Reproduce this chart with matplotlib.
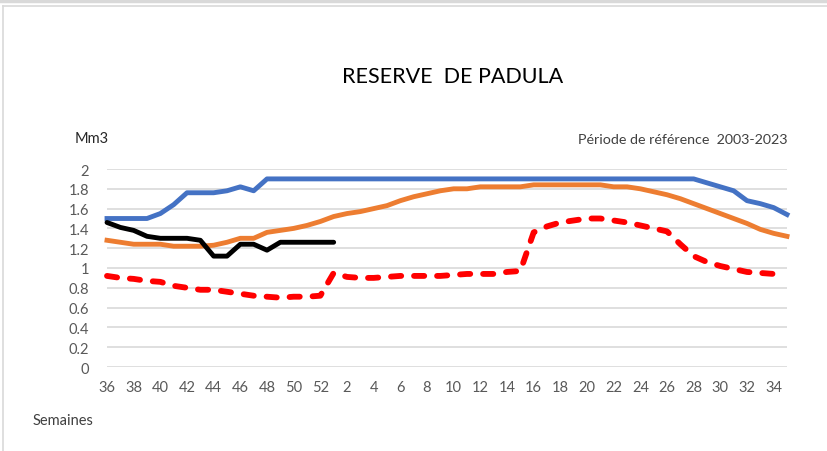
import numpy as np
import matplotlib
matplotlib.use("Agg")
import matplotlib.pyplot as plt
from matplotlib.lines import Line2D

plt.rcParams['font.family'] = ['Lato', 'DejaVu Sans']

# semaines 36..52 puis 1..35
weeks = list(range(36, 53)) + list(range(1, 36))

# max sur la periode de reference
max_ref = [1.50, 1.50, 1.50, 1.50, 1.55, 1.64, 1.76, 1.76, 1.76, 1.78, 1.82, 1.78, 1.90,
           1.90, 1.90, 1.90, 1.90, 1.90, 1.90, 1.90, 1.90, 1.90, 1.90, 1.90, 1.90, 1.90,
           1.90, 1.90, 1.90, 1.90, 1.90, 1.90, 1.90, 1.90, 1.90, 1.90, 1.90, 1.90, 1.90,
           1.90, 1.90, 1.90, 1.90, 1.90, 1.90, 1.86, 1.82, 1.78, 1.68, 1.65, 1.61, 1.54]

# moyenne
mean_ref = [1.28, 1.26, 1.24, 1.24, 1.24, 1.22, 1.22, 1.22, 1.23, 1.26, 1.30, 1.30, 1.36,
            1.38, 1.40, 1.43, 1.47, 1.52, 1.55, 1.57, 1.60, 1.63, 1.68, 1.72, 1.75, 1.78,
            1.80, 1.80, 1.82, 1.82, 1.82, 1.82, 1.84, 1.84, 1.84, 1.84, 1.84, 1.84, 1.82,
            1.82, 1.80, 1.77, 1.74, 1.70, 1.65, 1.60, 1.55, 1.50, 1.45, 1.39, 1.35, 1.32]

# min (jusqu'a la semaine 34)
min_ref = [0.92, 0.90, 0.89, 0.87, 0.86, 0.82, 0.80, 0.78, 0.78, 0.76, 0.74, 0.72, 0.71,
           0.70, 0.71, 0.71, 0.72, 0.95, 0.91, 0.90, 0.90, 0.91, 0.92, 0.92, 0.92, 0.92,
           0.93, 0.94, 0.94, 0.94, 0.96, 0.97, 1.36, 1.42, 1.46, 1.48, 1.50, 1.50, 1.48,
           1.46, 1.43, 1.40, 1.37, 1.24, 1.12, 1.06, 1.02, 0.99, 0.96, 0.95, 0.94]

# annee en cours (semaine 36 a semaine 1)
current = [1.46, 1.41, 1.38, 1.32, 1.30, 1.30, 1.30, 1.28, 1.12, 1.12, 1.24, 1.24, 1.18,
           1.26, 1.26, 1.26, 1.26, 1.26]

x = np.arange(len(weeks))

fig = plt.figure(figsize=(8.27, 4.52), dpi=100)
ax = fig.add_axes([107/827, 1-368/452, 680/827, 198/452])

lw = 3.5
ax.plot(x, max_ref, color='#4472C4', lw=lw, solid_joinstyle='round', clip_on=False, zorder=3)
ax.plot(x, mean_ref, color='#ED7D31', lw=lw, solid_joinstyle='round', clip_on=False, zorder=3)
ax.plot(x[:len(min_ref)], min_ref, color='#FF0000', lw=4.2, ls=(0, (1.75, 2.2)),
        dash_capstyle='round', clip_on=False, zorder=3)
ax.plot(x[:len(current)], current, color='black', lw=lw, solid_joinstyle='round',
        solid_capstyle='round', clip_on=False, zorder=4)

ax.set_xlim(0, len(weeks) - 1)
ax.set_ylim(0, 2)
ax.set_yticks(np.arange(0, 2.01, 0.2))
ax.set_yticklabels(['0', '0.2', '0.4', '0.6', '0.8', '1', '1.2', '1.4', '1.6', '1.8', '2'])
ax.set_xticks(x[::2])
ax.set_xticklabels([str(w) for w in weeks[::2]])
ax.grid(axis='y', color='#d9d9d9', lw=1.2)
ax.set_axisbelow(True)
for s in ax.spines.values():
    s.set_visible(False)
ax.tick_params(length=0, labelsize=10.5, colors='#595959', pad=9)
ax.tick_params(axis='y', pad=13)

fig.text(453/827, 1-77/452, 'RESERVE  DE PADULA', ha='center', va='center', fontsize=15.5, color='black')
fig.text(75/827, 1-139/452, 'Mm3', ha='left', va='center', fontsize=10.5, color='#262626')
fig.text(788/827, 1-140/452, 'Période de référence  2003-2023', ha='right', va='center',
         fontsize=10.3, color='#404040')
fig.text(33/827, 1-421/452, 'Semaines', ha='left', va='center', fontsize=10.5, color='#404040')

# cadre
fig.add_artist(Line2D([0, 1], [1-1.5/452, 1-1.5/452], color='#d9d9d9', lw=2.5))
fig.add_artist(Line2D([3/827, 1], [1-7/452, 1-7/452], color='#d9d9d9', lw=1.2))
fig.add_artist(Line2D([3/827, 3/827], [0, 1-7/452], color='#d9d9d9', lw=1.2))

fig.savefig('out.png', dpi=100)
